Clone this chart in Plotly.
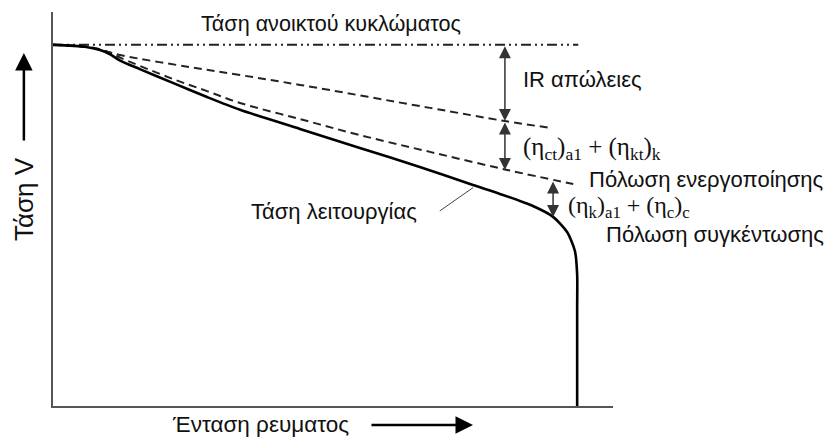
import plotly.graph_objects as go

# Normalised current density and cell voltage [V]
ocv_current = [0.0, 0.938]
ocv_voltage = [1.10, 1.10]

# Open-circuit voltage minus ohmic (IR) losses
ir_current = [0.0, 0.066, 0.120, 0.245, 0.334, 0.441, 0.673, 0.807, 0.888]
ir_voltage = [1.100, 1.093, 1.069, 1.032, 1.008, 0.978, 0.908, 0.868, 0.847]

# ... minus activation polarisation as well
act_current = [0.0, 0.057, 0.084, 0.102, 0.120, 0.155, 0.214, 0.275, 0.334,
               0.441, 0.548, 0.673, 0.811, 0.929]
act_voltage = [1.100, 1.094, 1.086, 1.076, 1.061, 1.036, 0.996, 0.959, 0.923,
               0.874, 0.825, 0.774, 0.719, 0.676]

# Operating voltage (includes concentration polarisation)
op_current = [0.0, 0.057, 0.084, 0.102, 0.120, 0.155, 0.214, 0.275, 0.334,
              0.441, 0.548, 0.655, 0.750, 0.798, 0.857, 0.893, 0.918, 0.932,
              0.936, 0.936, 0.936]
op_voltage = [1.100, 1.094, 1.084, 1.071, 1.052, 1.026, 0.984, 0.941, 0.902,
              0.844, 0.786, 0.728, 0.673, 0.646, 0.609, 0.576, 0.530, 0.472,
              0.400, 0.300, 0.0]

# Double-headed loss indicators: position, upper and lower voltage
arrow_current = [0.807, 0.807, 0.893]
arrow_top = [1.100, 0.868, 0.688]
arrow_bottom = [0.868, 0.719, 0.576]

SANS = "Liberation Sans, Arial, sans-serif"
SERIF = "Liberation Serif, Times New Roman, serif"
INK = "#111111"

fig = go.Figure()

fig.add_trace(go.Scatter(
    x=ocv_current, y=ocv_voltage, mode="lines",
    line=dict(color="#222222", width=2, dash="10px,4px,2px,4px,2px,4px"),
    hoverinfo="skip"))
fig.add_trace(go.Scatter(
    x=ir_current, y=ir_voltage, mode="lines", line_shape="spline",
    line=dict(color="#222222", width=2, dash="8px,5px"), hoverinfo="skip"))
fig.add_trace(go.Scatter(
    x=act_current, y=act_voltage, mode="lines", line_shape="spline",
    line=dict(color="#222222", width=2, dash="8px,5px"), hoverinfo="skip"))
fig.add_trace(go.Scatter(
    x=op_current, y=op_voltage, mode="lines", line_shape="spline",
    line=dict(color="#000000", width=2.6, smoothing=0.7), hoverinfo="skip"))

annotations = []

# Loss arrows between the curves
for xc, top, bot in zip(arrow_current, arrow_top, arrow_bottom):
    annotations.append(dict(
        x=xc, y=bot, ax=xc, ay=top, xref="x", yref="y", axref="x", ayref="y",
        text="", showarrow=True, arrowside="end+start",
        arrowhead=2, startarrowhead=2, arrowsize=1.6, startarrowsize=1.6,
        arrowwidth=1.5, arrowcolor="#333333", standoff=0, startstandoff=0))

# Leader line to the operating-voltage curve
annotations.append(dict(
    x=0.750, y=0.665, ax=0.688, ay=0.591, xref="x", yref="y",
    axref="x", ayref="y", text="", showarrow=True, arrowhead=0,
    arrowwidth=1, arrowcolor="#444444", standoff=0))

def label(text, x, y, xanchor="left", font=SANS, size=22):
    annotations.append(dict(
        x=x, y=y, xref="x", yref="y", text=text, showarrow=False,
        xanchor=xanchor, yanchor="middle", borderpad=0,
        font=dict(family=font, size=size, color=INK)))

label("Τάση ανοικτού κυκλώματος", 0.496, 1.166, xanchor="center", size=21.6)
label("IR απώλειες", 0.837, 0.993)
label("(η<sub>ct</sub>)<sub>a1</sub> + (η<sub>kt</sub>)<sub>k</sub>",
      0.837, 0.783, font=SERIF, size=25)
label("Πόλωση ενεργοποίησης", 0.955, 0.691)
label("(η<sub>k</sub>)<sub>a1</sub> + (η<sub>c</sub>)<sub>c</sub>",
      0.918, 0.606, font=SERIF, size=24)
label("Πόλωση συγκέντωσης", 0.986, 0.521)
label("Τάση λειτουργίας", 0.652, 0.591, xanchor="right")

# Axis titles with direction arrows
annotations.append(dict(
    x=-0.052, y=0.525, xref="paper", yref="paper", text="Τάση V",
    textangle=-90, showarrow=False, xanchor="center", yanchor="middle",
    font=dict(family=SANS, size=26, color=INK)))
annotations.append(dict(
    x=-0.052, y=0.896, ax=-0.052, ay=0.670, xref="x domain", yref="y domain",
    axref="x domain", ayref="y domain", text="", showarrow=True, arrowhead=2,
    arrowsize=1.4, arrowwidth=2.5, arrowcolor="#000000", standoff=0))
annotations.append(dict(
    x=0.371, y=-0.048, xref="paper", yref="paper", text="Ένταση ρευματος",
    showarrow=False, xanchor="center", yanchor="middle",
    font=dict(family=SANS, size=22.5, color=INK)))
annotations.append(dict(
    x=0.750, y=-0.048, ax=0.566, ay=-0.048, xref="x domain", yref="y domain",
    axref="x domain", ayref="y domain", text="", showarrow=True, arrowhead=2,
    arrowsize=1.4, arrowwidth=2.5, arrowcolor="#000000", standoff=0))

axis_style = dict(showline=True, linecolor="#555555", linewidth=2,
                  showgrid=False, zeroline=False, ticks="",
                  showticklabels=False, mirror=False, fixedrange=True)

fig.update_layout(
    width=826, height=442,
    margin=dict(l=53, r=213, t=12, b=36),
    paper_bgcolor="white", plot_bgcolor="white",
    showlegend=False,
    xaxis=dict(range=[0, 1.0], **axis_style),
    yaxis=dict(range=[0, 1.2], **axis_style),
    annotations=annotations,
)

fig.write_html("out.html")
